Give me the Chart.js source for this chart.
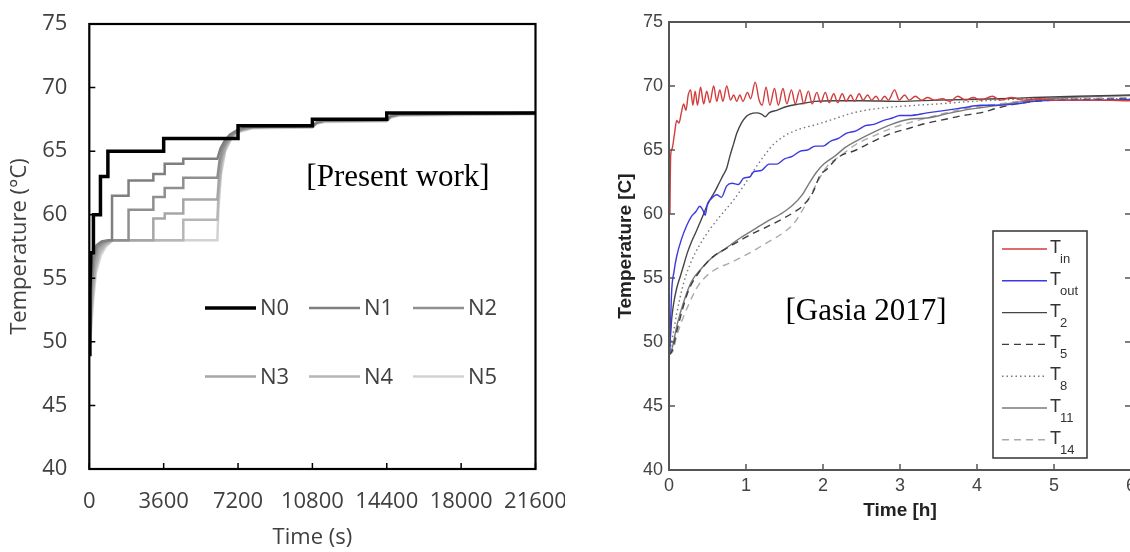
<!DOCTYPE html>
<html><head><meta charset="utf-8">
<script src="https://cdn.jsdelivr.net/npm/chart.js@4/dist/chart.umd.min.js"></script>
<style>
html,body{margin:0;padding:0;background:#fff;overflow:hidden;width:1130px;height:552px;}
#w1{position:absolute;left:0;top:0;width:565px;height:552px;}
#w2{position:absolute;left:570px;top:0;width:580px;height:552px;}
</style></head><body>
<div id="w1"><canvas id="c1" width="565" height="552"></canvas></div>
<div id="w2"><canvas id="c2" width="580" height="552"></canvas></div>
<script>
// ---------- Left panel data (time in s, temperature in °C) ----------
const leftXTicks = [0, 3600, 7200, 10800, 14400, 18000, 21600];
const leftLabels = ['N0', 'N1', 'N2', 'N3', 'N4', 'N5'];
const n0Time = [0,30,80,200,200,540,540,900,900,3600,3600,7200,7200,10800,10800,14400,14400,21600];
const n0Temp = [49,54,57,57,60,60,63,63,65,65,66,66,67,67,67.5,67.5,68,68];
const n1Time = [0,40,100,200,350,600,900,1100,1100,1900,1900,3100,3100,3650,3650,4550,4550,6200,6350,6550,6800,7200,7600,10800,11000,11400,14400,14600,15000,21600];
const n1Temp = [49,52.5,55,56.8,57.6,57.9,58,58,61.5,61.5,62.7,62.7,63.2,63.2,64,64,64.4,64.4,65.2,65.8,66.3,66.7,66.9,66.95,67.25,67.4,67.45,67.75,67.9,68];
const n2Time = [0,50,120,230,400,650,1000,1900,1900,3100,3100,3650,3650,4550,4550,6200,6300,6450,6700,7000,7400,7900,10800,11000,11400,14400,14600,15000,21600];
const n2Temp = [49,52,54.5,56.4,57.4,57.8,58,58,60.4,60.4,61.4,61.4,62.1,62.1,62.9,62.9,64.2,65.2,65.9,66.4,66.75,66.9,66.95,67.25,67.4,67.45,67.75,67.9,68];
const n3Time = [0,60,140,260,450,700,1050,3100,3100,3650,3650,4550,4550,6200,6280,6420,6650,6950,7350,7900,10800,11000,11400,14400,14600,15000,21600];
const n3Temp = [49,51.6,54,56,57.2,57.7,58,58,59.7,59.7,60.1,60.1,61.2,61.2,63,64.6,65.6,66.3,66.7,66.9,66.95,67.25,67.4,67.45,67.75,67.9,68];
const n4Time = [0,70,160,290,500,750,1100,4550,4550,6200,6260,6400,6600,6900,7300,7900,10800,11000,11400,14400,14600,15000,21600];
const n4Temp = [49,51.2,53.6,55.7,57,57.6,58,58,59.6,59.6,61.8,64,65.3,66.1,66.6,66.85,66.9,67.2,67.35,67.4,67.7,67.85,67.95];
const n5Time = [0,80,180,320,550,800,1150,6200,6250,6380,6580,6880,7300,7900,10800,11000,11400,14400,14600,15000,21600];
const n5Temp = [49,50.8,53.2,55.4,56.8,57.5,58,58,60.5,63.2,65,66,66.55,66.8,66.85,67.15,67.3,67.35,67.65,67.8,67.9];

// ---------- Right panel data (time in h, temperature in °C) ----------
const gasiaSubs = ['in', 'out', '2', '5', '8', '11', '14'];
const tInPts = [[0.012,60],[0.016,62.5],[0.022,64.6],[0.04,65.1],[0.07,66.2],[0.1,67.3],[0.13,67.1],[0.16,67.9],[0.19,68.6],[0.22,68.1],[0.25,69.3],[0.28,69.7],[0.31,68.5],[0.34,69.6],[0.37,68.5],[0.41,69.9],[0.45,68.6],[0.49,69.6],[0.53,68.7],[0.58,70.0],[0.62,68.8],[0.66,69.7],[0.70,68.8],[0.75,70.0],[0.80,68.9],[0.84,69.3],[0.88,68.8],[0.92,69.3],[0.96,68.8],[1.02,69.5],[1.06,69.0],[1.12,70.3],[1.17,68.9],[1.21,68.5],[1.26,69.9],[1.31,68.5],[1.37,69.8],[1.42,68.5],[1.48,69.8],[1.53,68.6],[1.59,69.7],[1.64,68.6],[1.70,69.7],[1.75,68.6],[1.81,69.6],[1.86,68.6],[1.92,69.5],[1.97,68.7],[2.03,69.5],[2.08,68.7],[2.14,69.4],[2.19,68.7],[2.25,69.4],[2.30,68.8],[2.36,69.3],[2.41,68.8],[2.47,69.4],[2.52,68.9],[2.58,69.3],[2.63,68.9],[2.69,69.2],[2.74,68.8],[2.80,69.2],[2.85,68.9],[2.93,69.7],[2.99,68.9],[3.06,69.3],[3.12,68.9],[3.2,69.2],[3.28,68.9],[3.36,69.1],[3.45,68.9],[3.55,69.0],[3.65,68.8],[3.75,69.2],[3.85,68.9],[3.95,69.1],[4.05,68.9],[4.2,69.2],[4.3,68.9],[4.45,69.1],[4.6,68.9],[4.8,69.0],[5.0,68.9],[5.5,68.9],[6,68.85]];
const tOutPts = [[0.01,49.2],[0.018,51],[0.035,54],[0.065,55.5],[0.1,56.7],[0.16,58],[0.23,59.1],[0.29,59.8],[0.35,60.2],[0.4,60.6],[0.44,60.3],[0.47,59.9],[0.5,60.8],[0.55,61.2],[0.62,61.5],[0.68,61.3],[0.75,62.2],[0.82,62.4],[0.9,62.3],[0.97,62.8],[1.05,62.9],[1.1,63.3],[1.2,63.4],[1.3,63.9],[1.4,63.9],[1.5,64.3],[1.6,64.5],[1.7,64.9],[1.8,65.0],[1.9,65.3],[2.0,65.3],[2.1,65.7],[2.2,65.9],[2.3,66.3],[2.43,66.5],[2.55,66.9],[2.66,67.0],[2.78,67.3],[2.9,67.5],[3.0,67.7],[3.12,67.7],[3.35,67.9],[3.59,68.1],[3.82,68.3],[4.05,68.5],[4.28,68.5],[4.51,68.6],[4.74,68.8],[5.21,68.9],[5.6,68.9],[6,68.95]];
const t2Pts = [[0,49],[0.02,50.5],[0.035,51.8],[0.06,53],[0.1,54.2],[0.15,55.2],[0.19,56],[0.24,57],[0.29,57.8],[0.35,58.6],[0.4,59.3],[0.45,60],[0.49,60.6],[0.55,61.3],[0.6,61.8],[0.65,62.4],[0.7,63],[0.75,63.6],[0.79,64.5],[0.84,65.5],[0.88,66.3],[0.94,67.1],[1.0,67.6],[1.05,67.8],[1.14,67.9],[1.2,67.8],[1.25,67.6],[1.3,67.9],[1.4,68.1],[1.53,68.4],[1.7,68.6],[1.9,68.8],[2.13,68.85],[2.5,68.85],[3,68.8],[3.5,68.9],[4.28,69.0],[4.74,69.1],[5.3,69.2],[6,69.3]];
const t5Pts = [[0,49],[0.04,49.3],[0.107,51.0],[0.246,53.9],[0.385,55.4],[0.57,56.65],[0.8,57.5],[1.03,58.3],[1.27,59.0],[1.5,59.7],[1.64,60.2],[1.73,60.6],[1.87,61.7],[1.96,63.0],[2.05,63.5],[2.19,64.4],[2.43,65.0],[2.66,65.7],[2.89,66.3],[3.12,66.7],[3.35,67.1],[3.59,67.4],[3.82,67.7],[4.04,67.9],[4.28,68.3],[4.51,68.6],[4.74,68.8],[5.21,68.9],[6,69.0]];
const t8Pts = [[0,49],[0.05,50.5],[0.1,52.2],[0.19,54.6],[0.29,56.3],[0.4,57.6],[0.53,58.8],[0.66,59.8],[0.84,61.1],[0.97,62.2],[1.1,63.4],[1.23,64.5],[1.35,65.4],[1.5,66.1],[1.68,66.6],[1.92,67.0],[2.13,67.4],[2.39,67.9],[2.66,68.2],[2.89,68.35],[3.22,68.5],[3.5,68.6],[3.82,68.75],[4.28,68.9],[4.74,69.0],[6,69.0]];
const t11Pts = [[0,49],[0.04,49.5],[0.107,51.4],[0.2,53.3],[0.29,54.7],[0.43,55.8],[0.57,56.65],[0.71,57.2],[0.895,58.0],[1.08,58.7],[1.27,59.4],[1.45,60.0],[1.59,60.6],[1.73,61.5],[1.82,62.4],[1.92,63.3],[2.01,63.9],[2.15,64.5],[2.29,65.2],[2.43,65.7],[2.66,66.4],[2.89,67.0],[3.12,67.4],[3.35,67.5],[3.59,67.8],[3.82,68.1],[4.04,68.3],[4.28,68.5],[4.74,68.9],[5.21,69.1],[6,69.25]];
const t14Pts = [[0,49],[0.05,49.3],[0.107,50.6],[0.246,52.8],[0.385,54.45],[0.57,55.55],[0.8,56.2],[1.03,56.9],[1.27,57.75],[1.5,58.6],[1.64,59.4],[1.78,60.8],[1.92,62.4],[2.05,63.7],[2.24,64.6],[2.43,65.45],[2.66,66.1],[2.89,66.7],[3.35,67.5],[3.82,68.2],[4.28,68.6],[4.74,68.9],[6,69.1]];

// ---------- helpers ----------
const zipXY = (xs, ys) => xs.map((x, i) => ({x, y: ys[i]}));
const pairs = p => p.map(([x, y]) => ({x, y}));

const decor = {
  id: 'decor',
  afterDatasetsDraw(chart, args, o) {
    const ctx = chart.ctx, a = chart.chartArea;
    const xs = chart.scales.x, ys = chart.scales.y;
    ctx.save();
    ctx.strokeStyle = o.frameColor; ctx.lineWidth = o.frameWidth;
    ctx.strokeRect(a.left, a.top, a.right - a.left, a.bottom - a.top);
    ctx.lineWidth = o.tickWidth;
    ctx.beginPath();
    const L = o.tickLen, s = o.tickSides;
    xs.ticks.forEach(t => {
      const p = xs.getPixelForValue(t.value);
      if (s.includes('bottom')) { ctx.moveTo(p, a.bottom); ctx.lineTo(p, a.bottom - L); }
      if (s.includes('top')) { ctx.moveTo(p, a.top); ctx.lineTo(p, a.top + L); }
    });
    ys.ticks.forEach(t => {
      const p = ys.getPixelForValue(t.value);
      if (s.includes('left')) { ctx.moveTo(a.left, p); ctx.lineTo(a.left + L, p); }
      if (s.includes('right')) { ctx.moveTo(a.right, p); ctx.lineTo(a.right - L, p); }
    });
    ctx.stroke();
    (o.notes || []).forEach(n => {
      ctx.font = n.font; ctx.fillStyle = n.color;
      ctx.textAlign = 'center'; ctx.textBaseline = 'middle';
      ctx.fillText(n.text, n.x, n.y);
    });
    const g = o.gridLegend;
    if (g) {
      chart.data.datasets.forEach((d, i) => {
        const c = i % g.cols, r = Math.floor(i / g.cols);
        const x = g.x0 + c * g.dx, y = g.y0 + r * g.dy;
        ctx.strokeStyle = d.borderColor; ctx.lineWidth = d.borderWidth;
        ctx.setLineDash([]);
        ctx.beginPath(); ctx.moveTo(x, y); ctx.lineTo(x + g.len, y); ctx.stroke();
        ctx.font = g.font; ctx.fillStyle = g.color;
        ctx.textAlign = 'left'; ctx.textBaseline = 'middle';
        ctx.fillText(d.label, x + g.len + g.gap, y + 1);
      });
    }
    const b = o.boxLegend;
    if (b) {
      ctx.setLineDash([]);
      ctx.fillStyle = '#fff';
      ctx.fillRect(b.left, b.top, b.width, b.height);
      ctx.strokeStyle = b.border; ctx.lineWidth = b.borderWidth;
      ctx.strokeRect(b.left, b.top, b.width, b.height);
      chart.data.datasets.forEach((d, i) => {
        const y = b.y0 + i * b.dy;
        ctx.strokeStyle = d.borderColor; ctx.lineWidth = d.borderWidth;
        ctx.setLineDash(d.borderDash || []);
        ctx.beginPath(); ctx.moveTo(b.x0, y); ctx.lineTo(b.x0 + b.len, y); ctx.stroke();
        ctx.setLineDash([]);
        ctx.fillStyle = b.color; ctx.textAlign = 'left'; ctx.textBaseline = 'alphabetic';
        const tx = b.x0 + b.len + b.gap;
        ctx.font = b.font; ctx.fillText('T', tx, y + 4);
        ctx.font = b.subFont; ctx.fillText(gasiaSubs[i], tx + b.subDx, y + 14);
      });
    }
    ctx.restore();
  }
};

// ---------- Left chart ----------
const leftColors = ['#000000', '#7f7f7f', '#8f8f8f', '#a6a6a6', '#b6b6b6', '#d2d2d2'];
const leftWidths = [3.5, 2.5, 2.5, 2.5, 2.5, 2.5];
const leftSeries = [[n0Time, n0Temp], [n1Time, n1Temp], [n2Time, n2Temp], [n3Time, n3Temp], [n4Time, n4Temp], [n5Time, n5Temp]];
new Chart(document.getElementById('c1'), {
  type: 'line',
  data: {
    datasets: leftSeries.map(([t, v], i) => ({
      label: leftLabels[i], data: zipXY(t, v),
      borderColor: leftColors[i], borderWidth: leftWidths[i],
      pointRadius: 0, tension: 0, fill: false
    }))
  },
  options: {
    responsive: false, animation: false, devicePixelRatio: 1,
    layout: { padding: { top: 24, right: 29.5, left: 0, bottom: 0 } },
    plugins: {
      legend: { display: false }, tooltip: { enabled: false },
      decor: {
        frameColor: '#000', frameWidth: 2.2, tickWidth: 1.5, tickLen: 6, tickSides: ['left', 'bottom'],
        notes: [{ text: '[Present work]', x: 398, y: 178, font: '31px "Liberation Serif"', color: '#000' }],
        gridLegend: { x0: 205, y0: 308, dx: 104, dy: 68.5, cols: 3, len: 51, gap: 4, font: '22px "Open Sans"', color: '#404040' }
      }
    },
    scales: {
      x: {
        type: 'linear', min: 0, max: 21600,
        afterBuildTicks: s => { s.ticks = leftXTicks.map(v => ({ value: v })); },
        afterFit: s => { s.height = 83; s.paddingLeft = 0; s.paddingRight = 0; },
        grid: { display: false, drawTicks: false }, border: { display: false },
        ticks: { padding: 20, color: '#404040', font: { family: 'Open Sans', size: 22 }, maxRotation: 0, callback: v => String(v) },
        title: { display: true, text: 'Time (s)', color: '#404040', font: { family: 'Open Sans', size: 22 }, padding: { top: 0, bottom: 1 } }
      },
      y: {
        type: 'linear', min: 40, max: 75,
        afterFit: s => { s.width = 89.3; s.paddingTop = 0; s.paddingBottom = 0; },
        grid: { display: false, drawTicks: false }, border: { display: false },
        ticks: { stepSize: 5, padding: 22, color: '#404040', font: { family: 'Open Sans', size: 22 } },
        title: { display: true, text: 'Temperature (°C)', color: '#404040', font: { family: 'Open Sans', size: 22 }, padding: { top: 6.4, bottom: 0 } }
      }
    }
  },
  plugins: [decor]
});

// ---------- Right chart ----------
const rightPts = [tInPts, tOutPts, t2Pts, t5Pts, t8Pts, t11Pts, t14Pts];
const rightColors = ['#d23c3c', '#3a3ae0', '#444444', '#3d3d3d', '#777777', '#7a7a7a', '#aaaaaa'];
const rightDash = [[], [], [], [7, 5], [1.5, 3], [], [7, 5]];
new Chart(document.getElementById('c2'), {
  type: 'line',
  data: {
    datasets: rightPts.map((p, i) => ({
      label: 'T' + gasiaSubs[i], data: pairs(p),
      borderColor: rightColors[i], borderWidth: 1.4, borderDash: rightDash[i],
      pointRadius: 0, cubicInterpolationMode: 'monotone', fill: false
    }))
  },
  options: {
    responsive: false, animation: false, devicePixelRatio: 1,
    layout: { padding: { top: 22, right: 19, left: 0, bottom: 0 } },
    plugins: {
      legend: { display: false }, tooltip: { enabled: false },
      decor: {
        frameColor: '#555', frameWidth: 2, tickWidth: 1.5, tickLen: 6, tickSides: ['left', 'bottom', 'top', 'right'],
        notes: [{ text: '[Gasia 2017]', x: 296, y: 312, font: '31px "Liberation Serif"', color: '#000' }],
        boxLegend: { left: 423, top: 231, width: 94, height: 227, border: '#333', borderWidth: 1.5,
          x0: 432, y0: 249, dy: 31.8, len: 45, gap: 3, font: '18px "Liberation Sans"', subFont: '13px "Liberation Sans"', subDx: 10, color: '#333' }
      }
    },
    scales: {
      x: {
        type: 'linear', min: 0, max: 6,
        afterFit: s => { s.height = 82; s.paddingLeft = 0; s.paddingRight = 0; },
        grid: { display: false, drawTicks: false }, border: { display: false },
        ticks: { stepSize: 1, padding: 5, color: '#444', font: { family: 'Liberation Sans', size: 18 }, maxRotation: 0 },
        title: { display: true, text: 'Time [h]', color: '#222', font: { family: 'Liberation Sans', size: 19, weight: 'bold' }, padding: { top: 0, bottom: 30 } }
      },
      y: {
        type: 'linear', min: 40, max: 75,
        afterFit: s => { s.width = 99; s.paddingTop = 0; s.paddingBottom = 0; },
        grid: { display: false, drawTicks: false }, border: { display: false },
        ticks: { stepSize: 5, padding: 6, color: '#444', font: { family: 'Liberation Sans', size: 18 } },
        title: { display: true, text: 'Temperature [C]', color: '#222', font: { family: 'Liberation Sans', size: 19, weight: 'bold' }, padding: { top: 44.6, bottom: 0 } }
      }
    }
  },
  plugins: [decor]
});
</script>
</body></html>
